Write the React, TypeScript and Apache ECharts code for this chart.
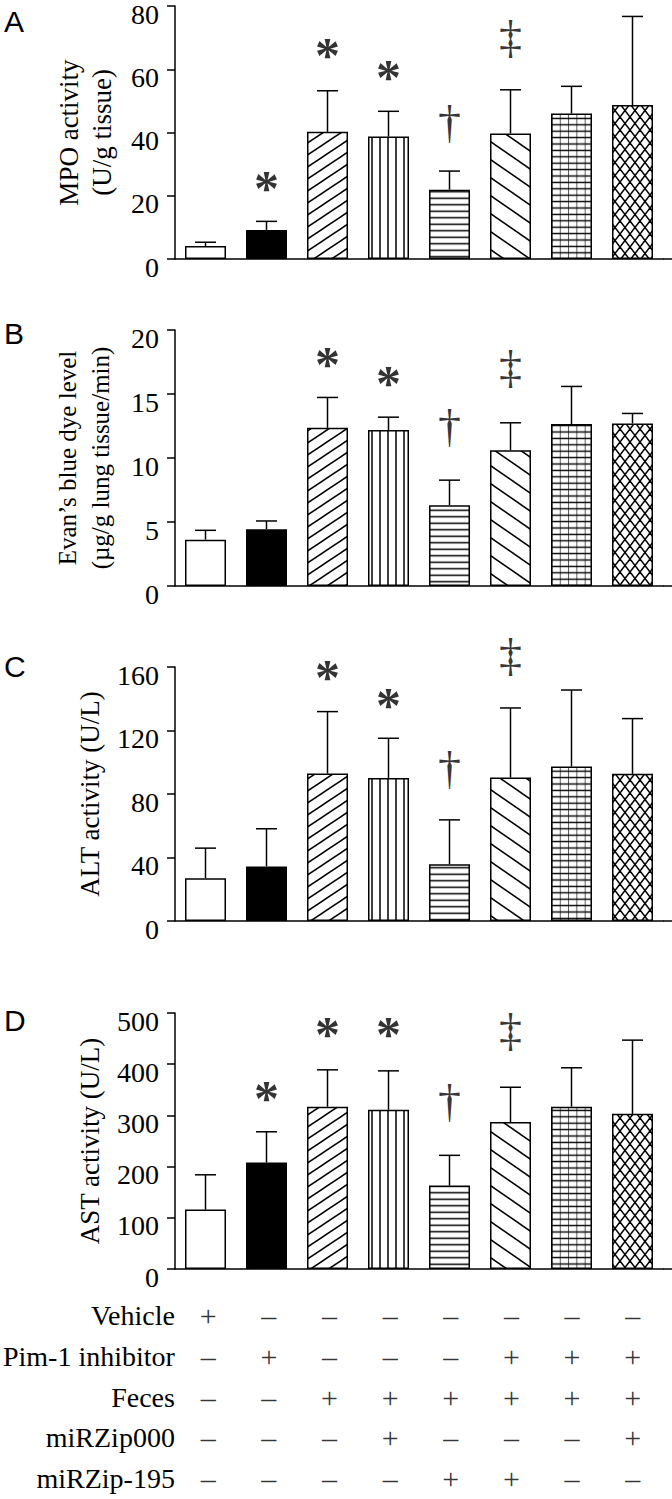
import React, { useEffect, useRef } from 'react';
import * as echarts from 'echarts';

// ---------- data ----------
const groups = ['G1', 'G2', 'G3', 'G4', 'G5', 'G6', 'G7', 'G8'];

const mpoMean = [4.1, 9.2, 40.2, 38.7, 21.9, 39.7, 46.0, 48.7];
const mpoUpper = [5.3, 11.9, 53.2, 46.7, 27.8, 53.5, 54.6, 76.7];
const mpoMarks = ['', '*', '*', '*', '†', '‡', '', ''];
const mpoMarkY = [0, 25, 67, 60, 43, 69, 0, 0];

const evansMean = [3.62, 4.43, 12.36, 12.18, 6.31, 10.61, 12.65, 12.7];
const evansUpper = [4.35, 5.08, 14.73, 13.19, 8.27, 12.75, 15.59, 13.48];
const evansMarks = ['', '', '*', '*', '†', '‡', '', ''];
const evansMarkY = [0, 0, 18.0, 16.5, 12.4, 16.8, 0, 0];

const altMean = [27.0, 34.4, 92.9, 90.1, 35.8, 90.4, 97.3, 92.7];
const altUpper = [45.9, 58.1, 131.9, 115.1, 63.7, 134.2, 145.5, 127.5];
const altMarks = ['', '', '*', '*', '†', '‡', '', ''];
const altMarkY = [0, 0, 158.5, 140.9, 95.6, 165.4, 0, 0];

const astMean = [116, 208, 317, 311, 163, 287, 317, 303];
const astUpper = [184, 268, 389, 387, 222, 355, 393, 447];
const astMarks = ['', '*', '*', '*', '†', '‡', '', ''];
const astMarkY = [0, 350, 474, 474, 325, 460, 0, 0];

const rowLabels = ['Vehicle', 'Pim-1 inhibitor', 'Feces', 'miRZip000', 'miRZip-195'];
const vehicleRow = ['+', '–', '–', '–', '–', '–', '–', '–'];
const pim1Row = ['–', '+', '–', '–', '–', '+', '+', '+'];
const fecesRow = ['–', '–', '+', '+', '+', '+', '+', '+'];
const mirzip000Row = ['–', '–', '–', '+', '–', '–', '–', '+'];
const mirzip195Row = ['–', '–', '–', '–', '+', '+', '–', '–'];

// ---------- styling ----------
const SERIF = 'Liberation Serif';
const SANS = 'Liberation Sans';

function tile(w: number, h: number, body: string) {
  const svg = `<svg xmlns="http://www.w3.org/2000/svg" width="${w}" height="${h}" viewBox="0 0 ${w} ${h}"><rect x="0" y="0" width="${w}" height="${h}" fill="#fff"/>${body}</svg>`;
  return {
    image: 'data:image/svg+xml;charset=utf-8,' + encodeURIComponent(svg),
    repeat: 'repeat',
    imageWidth: w,
    imageHeight: h,
  };
}
function diagLines(w: number, h: number, dir: number, sw: number, color = '#000') {
  let s = '';
  for (let k = -1; k <= 1; k++) {
    const x1 = -2, x2 = w + 2;
    let y1: number, y2: number;
    if (dir > 0) {
      y1 = h - (h / w) * x1 + k * h;
      y2 = h - (h / w) * x2 + k * h;
    } else {
      y1 = (h / w) * x1 + k * h;
      y2 = (h / w) * x2 + k * h;
    }
    s += `<line x1="${x1}" y1="${y1}" x2="${x2}" y2="${y2}" stroke="${color}" stroke-width="${sw}"/>`;
  }
  return s;
}

const fills: any[] = [
  '#ffffff',
  '#000000',
  tile(18, 12, diagLines(18, 12, 1, 1.5)),
  tile(8, 8, `<line x1="4" y1="-1" x2="4" y2="9" stroke="#000" stroke-width="1.5"/>`),
  tile(8, 6.5, `<line x1="-1" y1="3.25" x2="9" y2="3.25" stroke="#000" stroke-width="1.5"/>`),
  tile(26, 18, diagLines(26, 18, -1, 1.5)),
  tile(8.3, 6.4, `<line x1="4.15" y1="-1" x2="4.15" y2="8" stroke="#555" stroke-width="1"/><line x1="-1" y1="3.2" x2="10" y2="3.2" stroke="#000" stroke-width="1.4"/>`),
  tile(10, 13, diagLines(10, 13, 1, 1.5) + diagLines(10, 13, -1, 1.5)),
];

const panels = [
  { letter: 'A', name: 'MPO activity\n(U/g tissue)', nameSize: 27, nameGap: 57, max: 80, interval: 20, mean: mpoMean, upper: mpoUpper, marks: mpoMarks, markY: mpoMarkY },
  { letter: 'B', name: 'Evan’s blue dye level\n(µg/g lung tissue/min)', nameSize: 25, nameGap: 58, max: 20, interval: 5, mean: evansMean, upper: evansUpper, marks: evansMarks, markY: evansMarkY },
  { letter: 'C', name: 'ALT activity (U/L)', nameSize: 27, nameGap: 66, max: 160, interval: 40, mean: altMean, upper: altUpper, marks: altMarks, markY: altMarkY },
  { letter: 'D', name: 'AST activity (U/L)', nameSize: 27, nameGap: 66, max: 500, interval: 100, mean: astMean, upper: astUpper, marks: astMarks, markY: astMarkY },
];

const layout = [
  { top: 5, height: 254 },
  { top: 330, height: 256 },
  { top: 667, height: 254 },
  { top: 1013, height: 256 },
];
const letterY = [6, 318, 651, 1005];
const GRID_LEFT = 175;
const GRID_WIDTH = 488;

function markLabel(m: string) {
  if (m === '*') return { fontWeight: 'bold', fontSize: 50, offset: [0, 8] };
  if (m === '‡') return { fontWeight: 'normal', fontSize: 46, offset: [0, -3] };
  return { fontWeight: 'normal', fontSize: 46, offset: [0, -1] };
}

function buildOption() {
  const grid: any[] = [];
  const xAxis: any[] = [];
  const yAxis: any[] = [];
  const series: any[] = [];
  const graphic: any[] = [];

  panels.forEach((p, k) => {
    grid.push({ left: GRID_LEFT, width: GRID_WIDTH, top: layout[k].top, height: layout[k].height });
    xAxis.push({
      type: 'category', gridIndex: k, data: groups,
      axisLabel: { show: false }, axisTick: { show: false },
      axisLine: { show: true, lineStyle: { color: '#000', width: 1.5 } },
    });
    yAxis.push({
      type: 'value', gridIndex: k, min: 0, max: p.max, interval: p.interval,
      splitLine: { show: false },
      axisLine: { show: true, lineStyle: { color: '#000', width: 1.5 } },
      axisTick: { show: true, length: 8, lineStyle: { color: '#000', width: 1.5 } },
      axisLabel: { fontFamily: SERIF, fontSize: 28, color: '#000', margin: 16, verticalAlign: 'top', lineHeight: 16 },
      name: p.name, nameLocation: 'middle', nameRotate: 90, nameGap: p.nameGap,
      nameTextStyle: { fontFamily: SERIF, fontSize: p.nameSize, color: '#000', lineHeight: 33 },
    });
    series.push({
      type: 'bar', xAxisIndex: k, yAxisIndex: k, barWidth: 41,
      itemStyle: { borderColor: '#000', borderWidth: 1.5 },
      data: p.mean.map((v, i) => ({ value: v, itemStyle: { color: fills[i] } })),
      z: 2,
    });
    series.push({
      type: 'custom', xAxisIndex: k, yAxisIndex: k, z: 3,
      data: p.mean.map((v, i) => [i, v, p.upper[i]]),
      renderItem: (params: any, api: any) => {
        const x = api.value(0);
        const a = api.coord([x, api.value(1)]);
        const b = api.coord([x, api.value(2)]);
        const hw = 10.5;
        return {
          type: 'group',
          children: [
            { type: 'line', shape: { x1: a[0], y1: a[1], x2: b[0], y2: b[1] }, style: { stroke: '#000', lineWidth: 1.5 } },
            { type: 'line', shape: { x1: b[0] - hw, y1: b[1], x2: b[0] + hw, y2: b[1] }, style: { stroke: '#000', lineWidth: 1.5 } },
          ],
        };
      },
    });
    series.push({
      type: 'scatter', xAxisIndex: k, yAxisIndex: k, symbol: 'circle', symbolSize: 1, clip: false,
      itemStyle: { color: 'transparent' }, z: 4,
      data: p.marks
        .map((m, i) => ({ value: [i, p.markY[i], m], label: markLabel(m) }))
        .filter((d) => d.value[2] !== ''),
      label: {
        show: true, position: 'inside', formatter: (q: any) => q.value[2],
        fontFamily: SERIF, fontSize: 46, color: '#000',
      },
    });
    graphic.push({
      type: 'text', left: 4, top: letterY[k],
      style: { text: p.letter, font: `30px "${SANS}"`, fill: '#000' },
    });
    graphic.push({
      type: 'line',
      shape: { x1: GRID_LEFT + GRID_WIDTH, y1: layout[k].top + layout[k].height, x2: 672, y2: layout[k].top + layout[k].height },
      style: { stroke: '#000', lineWidth: 1.5 },
    });
  });

  // treatment table
  const rows = [vehicleRow, pim1Row, fecesRow, mirzip000Row, mirzip195Row];
  grid.push({ left: GRID_LEFT, width: GRID_WIDTH, top: 1295, height: 210 });
  xAxis.push({ type: 'category', gridIndex: 4, data: groups, show: false });
  yAxis.push({
    type: 'category', gridIndex: 4, data: rowLabels, inverse: true,
    axisLine: { show: false }, axisTick: { show: false }, splitLine: { show: false },
    axisLabel: { fontFamily: SERIF, fontSize: 28, color: '#000', margin: 3 },
  });
  series.push({
    type: 'scatter', xAxisIndex: 4, yAxisIndex: 4, symbol: 'circle', symbolSize: 1,
    itemStyle: { color: 'transparent' },
    data: rows.flatMap((row, r) => row.map((s, c) => [c, r, s])),
    label: {
      show: true, position: 'inside', formatter: (q: any) => q.value[2],
      fontFamily: SERIF, fontSize: 30, color: '#000',
    },
  });

  return {
    animation: false, backgroundColor: '#fff',
    textStyle: { fontFamily: SERIF, color: '#000' },
    grid, xAxis, yAxis, series, graphic,
  };
}

export default function App() {
  const ref = useRef<HTMLDivElement>(null);
  useEffect(() => {
    document.body.style.margin = '0';
    const chart = echarts.init(ref.current as HTMLDivElement, null, { renderer: 'svg' });
    chart.setOption(buildOption() as any);
    return () => chart.dispose();
  }, []);
  return <div ref={ref} style={{ width: 672, height: 1499 }} />;
}
